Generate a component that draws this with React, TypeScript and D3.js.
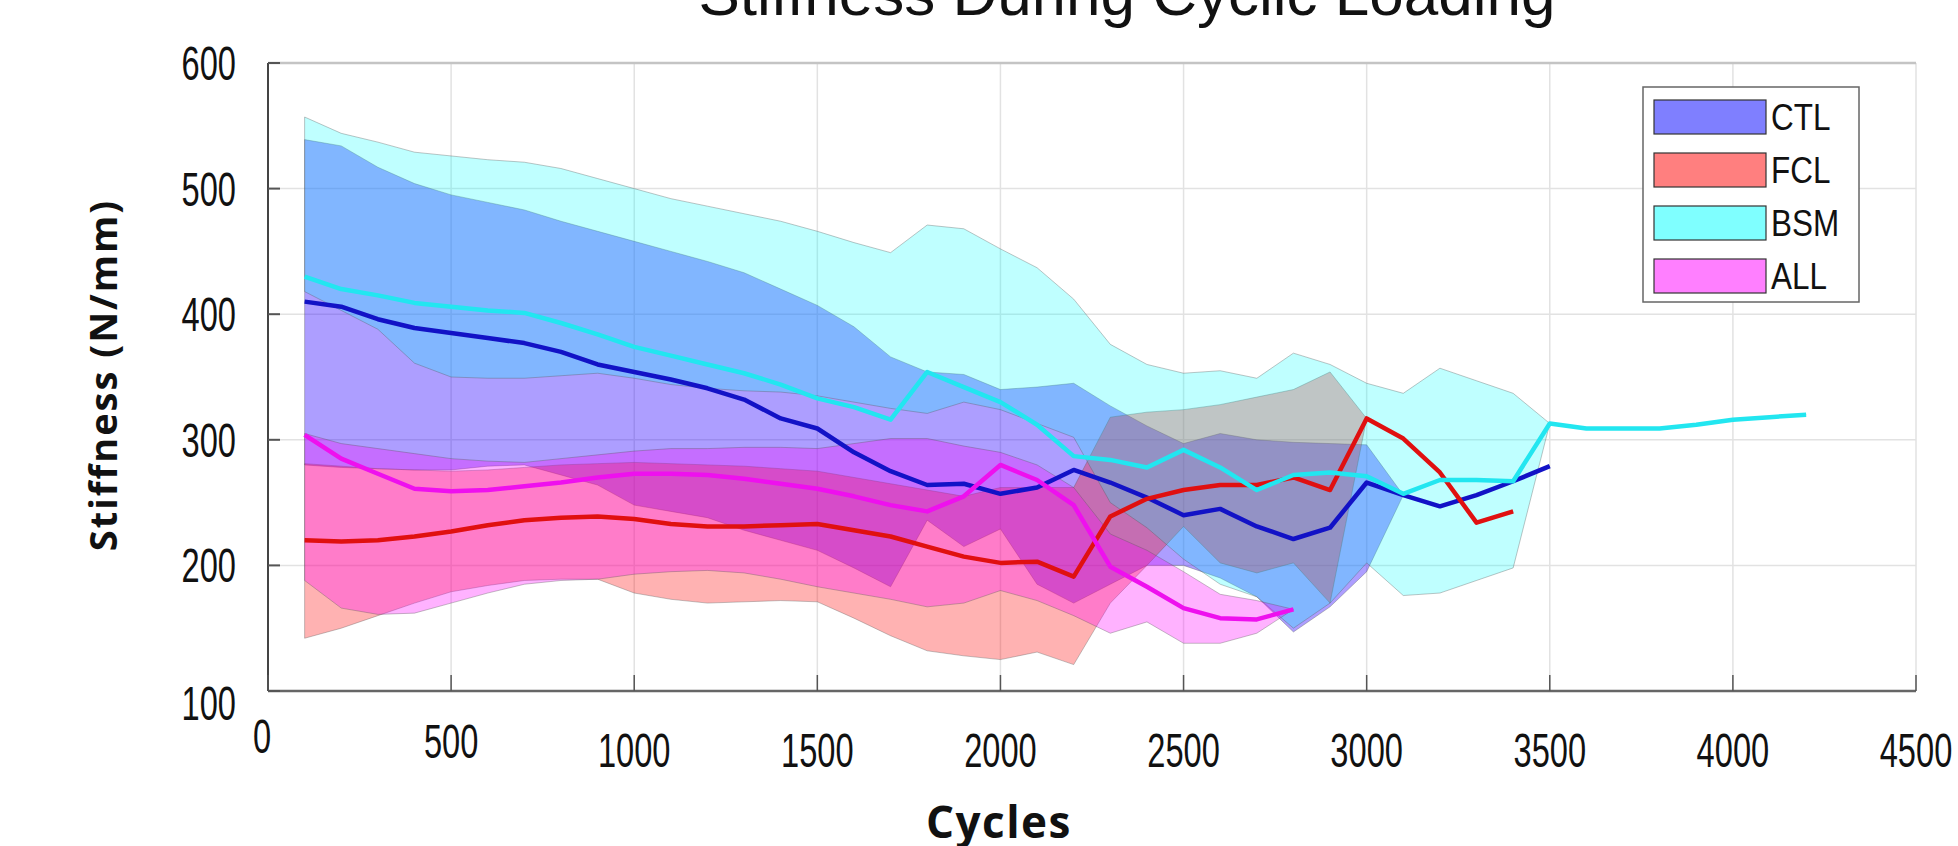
import * as d3 from "d3";

// cycle positions shared by all groups (each group uses a prefix)
const cycles = [
  100, 200, 300, 400, 500, 600, 700, 800, 900, 1000, 1100, 1200, 1300, 1400, 1500, 1600, 1700, 1800, 1900, 2000,
  2100, 2200, 2300, 2400, 2500, 2600, 2700, 2800, 2900, 3000, 3100, 3200, 3300, 3400, 3500, 3600, 3700, 3800,
  3900, 4000, 4100, 4200,
];

const ctlMean = [410, 406, 396, 389, 385, 381, 377, 370, 360, 354, 348, 341, 332, 317, 309, 290, 275, 264, 265, 257, 262, 276, 266, 254, 240, 245, 231, 221, 230, 266, 256, 247, 256, 267, 279];
const ctlUpper = [539, 534, 517, 504, 495, 489, 483, 474, 466, 458, 450, 442, 433, 420, 407, 390, 366, 354, 352, 340, 342, 345, 327, 311, 297, 305, 300, 298, 297, 296, 256, 247, 256, 267, 279];
const ctlLower = [280, 278, 277, 276, 276, 279, 280, 272, 264, 248, 243, 238, 228, 220, 212, 198, 183, 236, 215, 229, 185, 170, 185, 200, 200, 190, 175, 147, 167, 195, 256, 247, 256, 267, 279];

const fclMean = [220, 219, 220, 223, 227, 232, 236, 238, 239, 237, 233, 231, 231, 232, 233, 228, 223, 215, 207, 202, 203, 191, 239, 253, 260, 264, 264, 270, 260, 317, 301, 274, 234, 243];
const fclUpper = [281, 279, 277, 276, 275, 276, 278, 280, 281, 282, 281, 280, 279, 277, 275, 270, 265, 260, 255, 262, 262, 262, 318, 322, 324, 328, 334, 340, 354, 317, 301, 274, 234, 243];
const fclLower = [142, 150, 160, 170, 179, 184, 188, 189, 189, 178, 173, 170, 171, 172, 171, 158, 144, 132, 128, 125, 131, 121, 170, 200, 231, 202, 194, 202, 170, 317, 301, 274, 234, 243];

const bsmMean = [430, 420, 415, 409, 406, 403, 401, 393, 384, 374, 367, 360, 353, 344, 333, 326, 316, 354, 342, 330, 312, 287, 284, 278, 292, 278, 260, 272, 274, 271, 257, 268, 268, 267, 313, 309, 309, 309, 312, 316, 318, 320];
const bsmUpper = [557, 544, 537, 529, 526, 523, 521, 516, 508, 500, 492, 486, 480, 474, 466, 457, 449, 471, 468, 452, 437, 412, 376, 360, 353, 355, 349, 369, 360, 345, 337, 357, 347, 337, 313, 309, 309, 309, 312, 316, 318, 320];
const bsmLower = [418, 403, 388, 361, 350, 349, 349, 351, 353, 349, 344, 341, 339, 338, 335, 330, 325, 321, 330, 324, 313, 302, 250, 230, 205, 185, 175, 150, 170, 202, 176, 178, 188, 198, 313, 309, 309, 309, 312, 316, 318, 320];

const allMean = [304, 285, 273, 261, 259, 260, 263, 266, 270, 273, 273, 272, 269, 265, 261, 255, 248, 243, 255, 280, 268, 248, 199, 183, 166, 158, 157, 165];
const allUpper = [305, 297, 293, 289, 285, 283, 282, 285, 288, 291, 293, 293, 294, 294, 293, 297, 301, 301, 295, 290, 280, 262, 225, 212, 195, 177, 172, 165];
const allLower = [188, 166, 161, 162, 170, 178, 185, 188, 189, 193, 195, 196, 194, 189, 183, 178, 173, 167, 170, 180, 172, 160, 146, 155, 138, 138, 146, 165];

const xTicks = [0, 500, 1000, 1500, 2000, 2500, 3000, 3500, 4000, 4500];
const yTicks = [100, 200, 300, 400, 500, 600];

const groups = [
  { name: "CTL", mean: ctlMean, upper: ctlUpper, lower: ctlLower, line: "#1212c6", fill: "#2800ff", alpha: 0.38, swatch: "#7f7fff" },
  { name: "FCL", mean: fclMean, upper: fclUpper, lower: fclLower, line: "#e01010", fill: "#ff0000", alpha: 0.3, swatch: "#ff7f7f" },
  { name: "BSM", mean: bsmMean, upper: bsmUpper, lower: bsmLower, line: "#22e6f0", fill: "#00ffff", alpha: 0.25, swatch: "#7fffff" },
  { name: "ALL", mean: allMean, upper: allUpper, lower: allLower, line: "#ee10ee", fill: "#ff00ff", alpha: 0.3, swatch: "#ff7fff" },
];

const W = 1958;
const H = 846;
const plot = { left: 268, right: 1916, top: 63, bottom: 691 };

const sans = "'Liberation Sans', Arial, sans-serif";
const boldFont = "'Open Sans', 'Liberation Sans', sans-serif";

export default function App() {
  const x = d3.scaleLinear().domain([0, 4500]).range([plot.left, plot.right]);
  const y = d3.scaleLinear().domain([100, 600]).range([plot.bottom, plot.top]);

  const series = groups.map((g) => {
    const pts = g.mean.map((m, i) => ({ c: cycles[i], m, hi: g.upper[i], lo: g.lower[i] }));
    const area = d3
      .area<any>()
      .x((d) => x(d.c))
      .y0((d) => y(d.lo))
      .y1((d) => y(d.hi));
    const line = d3
      .line<any>()
      .x((d) => x(d.c))
      .y((d) => y(d.m));
    return { ...g, areaPath: area(pts) ?? "", linePath: line(pts) ?? "" };
  });

  const legend = { x: 1643, y: 87, w: 216, h: 215 };
  // the pasted labels sit at slightly different heights in the original
  const xLabelBase = (i: number) => (i === 0 ? 753 : i === 1 ? 758 : 767);

  return (
    <svg width={W} height={H} style={{ position: "absolute", left: 0, top: 0, background: "#fff" }}>
      <rect width={W} height={H} fill="#fff" />

      {/* grid */}
      {xTicks.map((t) => (
        <line key={"gx" + t} x1={x(t)} x2={x(t)} y1={plot.top} y2={plot.bottom} stroke="#e2e2e2" strokeWidth={1.5} />
      ))}
      {yTicks.map((t) => (
        <line key={"gy" + t} x1={plot.left} x2={plot.right} y1={y(t)} y2={y(t)} stroke="#e2e2e2" strokeWidth={1.5} />
      ))}
      <line x1={plot.left} x2={plot.right} y1={plot.top} y2={plot.top} stroke="#c4c4c4" strokeWidth={2.5} />

      {/* bands */}
      {series.map((s) => (
        <path
          key={"a" + s.name}
          d={s.areaPath}
          fill={s.fill}
          fillOpacity={s.alpha}
          stroke="#555"
          strokeOpacity={0.35}
          strokeWidth={1}
        />
      ))}

      {/* means */}
      {series.map((s) => (
        <path key={"l" + s.name} d={s.linePath} fill="none" stroke={s.line} strokeWidth={4.5} strokeLinejoin="round" />
      ))}

      {/* axes */}
      <line x1={plot.left} x2={plot.left} y1={plot.top} y2={plot.bottom} stroke="#444" strokeWidth={2} />
      <line x1={plot.left} x2={plot.right} y1={plot.bottom} y2={plot.bottom} stroke="#666" strokeWidth={2.5} />
      {xTicks.map((t) => (
        <line key={"tx" + t} x1={x(t)} x2={x(t)} y1={plot.bottom} y2={plot.bottom - 16} stroke="#555" strokeWidth={1.5} />
      ))}
      {yTicks.map((t) => (
        <line key={"ty" + t} x1={plot.left} x2={plot.left + 12} y1={y(t)} y2={y(t)} stroke="#555" strokeWidth={2} />
      ))}

      {/* tick labels */}
      {yTicks.map((t) => (
        <text
          key={"ly" + t}
          transform={`translate(236,${y(t) + 17 + (t === 100 ? 12 : 0)}) scale(0.68,1)`}
          textAnchor="end"
          fontFamily={sans}
          fontSize={48}
          fill="#111"
        >
          {t}
        </text>
      ))}
      {xTicks.map((t, i) => (
        <text
          key={"lx" + t}
          transform={`translate(${x(t) - (i === 0 ? 6 : 0)},${xLabelBase(i)}) scale(0.68,1)`}
          textAnchor="middle"
          fontFamily={sans}
          fontSize={48}
          fill="#111"
        >
          {t}
        </text>
      ))}

      {/* axis titles */}
      <text
        x={999}
        y={838}
        textAnchor="middle"
        fontFamily={boldFont}
        fontWeight={700}
        fontSize={44}
        letterSpacing={1.5}
        fill="#111"
      >
        Cycles
      </text>
      <text
        transform="translate(117,375) rotate(-90)"
        textAnchor="middle"
        fontFamily={boldFont}
        fontWeight={700}
        fontSize={38}
        letterSpacing={2}
        fill="#111"
      >
        Stiffness (N/mm)
      </text>

      {/* title, cut off at the top edge as in the original */}
      <text x={1127} y={15} textAnchor="middle" fontFamily={sans} fontSize={62} fill="#111">
        Stiffness During Cyclic Loading
      </text>

      {/* legend */}
      <rect x={legend.x} y={legend.y} width={legend.w} height={legend.h} fill="#fff" stroke="#666" strokeWidth={1.5} />
      {series.map((s, i) => (
        <g key={"lg" + s.name} transform={`translate(${legend.x + 11},${legend.y + 13 + i * 53})`}>
          <rect width={112} height={34} fill={s.swatch} stroke="#333" strokeWidth={1.2} />
          <text transform="translate(117,30) scale(0.85,1)" fontFamily={sans} fontSize={37} fill="#111">
            {s.name}
          </text>
        </g>
      ))}
    </svg>
  );
}
